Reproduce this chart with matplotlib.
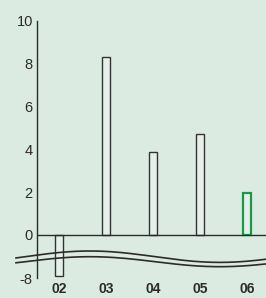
import numpy as np
import matplotlib
matplotlib.use("Agg")
import matplotlib.pyplot as plt

plt.rcParams['font.family'] = ['Liberation Sans', 'DejaVu Sans']
plt.rcParams['axes.unicode_minus'] = False

years = ["02", "03", "04", "05", "06"]
values = [-7.9, 8.3, 3.9, 4.7, 1.95]
edge_colors = ["#333333", "#333333", "#333333", "#333333", "#1a9a48"]
top_ticks = [0, 2, 4, 6, 8, 10]
bottom_ticks = [-8]

W, H = 266, 298
bg = "#dcebe2"
ink = "#2b2b2b"

fig = plt.figure(figsize=(W / 100, H / 100), dpi=100)
fig.patch.set_facecolor(bg)

# pixel helpers
def fx(px):
    return px / W

def fy(py):
    return (H - py) / H

px_per_unit = 21.4
zero_px = 235
x0_px, step_px = 59, 47
left_px = 37

xlim = ((left_px - x0_px) / step_px, (W - x0_px) / step_px)
x = np.arange(len(years))

# upper part of the broken axis
top_bottom_px = 254
ax = fig.add_axes([fx(left_px), fy(top_bottom_px), fx(W - left_px),
                   (top_bottom_px - (zero_px - 10 * px_per_unit)) / H])
ax.set_facecolor("none")
ax.set_ylim((zero_px - top_bottom_px) / px_per_unit, 10)
ax.set_xlim(*xlim)

# lower part
low_top_px, low_bottom_px = 254, 278
ax2 = fig.add_axes([fx(left_px), fy(low_bottom_px), fx(W - left_px),
                    (low_bottom_px - low_top_px) / H])
ax2.set_facecolor("none")
ax2.set_ylim(-8, -8 + (low_bottom_px - low_top_px) / px_per_unit)
ax2.set_xlim(*xlim)

for a in (ax, ax2):
    a.bar(x, values, width=0.17, color="#e4f0e9", edgecolor=edge_colors,
          linewidth=1.0)
    for s in ["top", "right", "bottom"]:
        a.spines[s].set_visible(False)
    a.spines["left"].set_color(ink)
    a.spines["left"].set_linewidth(1.0)
    a.tick_params(axis="y", length=0, pad=3, labelsize=10.5, labelcolor=ink)

ax.patches[-1].set_linewidth(1.6)
ax.set_yticks(top_ticks)
ax.set_xticks([])
ax.axhline(0, color=ink, lw=1.0)

ax2.set_yticks(bottom_ticks)
ax2.set_xticks(x)
ax2.set_xticklabels(years, fontweight="bold", fontsize=10, color=ink)
ax2.tick_params(axis="x", length=0, pad=3)

# wavy break marks
ov = fig.add_axes([0, 0, 1, 1])
ov.set_xlim(0, W)
ov.set_ylim(H, 0)
ov.axis("off")
ov.patch.set_alpha(0)
wx = np.linspace(16, W, 200)
phase = np.cos(2 * np.pi * (wx - 90) / 260)
upper = 256.7 - 5.7 * phase
lower = 261.7 - 5.0 * phase
ov.plot(wx, upper, color=ink, lw=1.2)
ov.plot(wx, lower, color=ink, lw=1.2)

fig.savefig("out.png", dpi=100, facecolor=fig.get_facecolor())
